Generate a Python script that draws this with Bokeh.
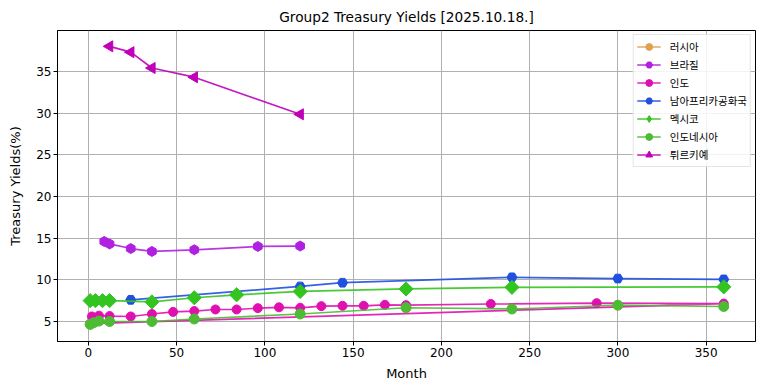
import math
from bokeh.plotting import figure
from bokeh.models import ColumnDataSource, Range1d, FixedTicker, Legend
from bokeh.embed import file_html
from bokeh.resources import INLINE

# ---- data (months, yields %) ----
russia_m = [float("nan")]
russia_y = [float("nan")]
brazil_m = [9, 12, 24, 36, 60, 96, 120]
brazil_y = [14.6, 14.3, 13.75, 13.4, 13.6, 14.0, 14.05]
india_m = [2, 6, 12, 24, 36, 48, 60, 72, 84, 96, 108, 120, 132, 144, 156, 168, 180, 228, 288, 360, 1]
india_y = [5.6, 5.7, 5.65, 5.6, 5.9, 6.15, 6.25, 6.44, 6.44, 6.6, 6.7, 6.64, 6.84, 6.88, 6.88, 7.0, 6.96, 7.1, 7.2, 7.15, 4.75]
safrica_m = [24, 120, 144, 240, 300, 360]
safrica_y = [7.6, 9.2, 9.65, 10.3, 10.15, 10.05]
mexico_m = [1, 4, 8, 12, 36, 60, 84, 120, 180, 240, 360]
mexico_y = [7.5, 7.5, 7.5, 7.5, 7.35, 7.85, 8.2, 8.6, 8.9, 9.1, 9.15]
indonesia_m = [1, 3, 6, 12, 36, 60, 120, 180, 240, 300, 360]
indonesia_y = [4.65, 4.85, 5.05, 5.0, 5.0, 5.3, 5.9, 6.65, 6.5, 6.95, 6.8]
turkey_m = [12, 24, 36, 60, 120]
turkey_y = [38.0, 37.3, 35.4, 34.3, 29.85]

x_ticks = [0, 50, 100, 150, 200, 250, 300, 350]
y_ticks = [5, 10, 15, 20, 25, 30, 35]

# name, months, yields, colour, plot marker, size, angle, legend marker, legend size
series = [
    ("러시아", russia_m, russia_y, "#e0a050", "circle", 9, 0, "circle", 9),
    ("브라질", brazil_m, brazil_y, "#b020e0", "hex", 10, math.pi / 2, "hex", 10),
    ("인도", india_m, india_y, "#e010b0", "circle", 9, 0, "circle", 9),
    ("남아프리카공화국", safrica_m, safrica_y, "#2050e0", "hex", 10, 0, "hex", 10),
    ("멕시코", mexico_m, mexico_y, "#33c41f", "square", 10, math.pi / 4, "diamond", 15),
    ("인도네시아", indonesia_m, indonesia_y, "#4dbb33", "circle", 10, 0, "circle", 10),
    ("튀르키예", turkey_m, turkey_y, "#c000b8", "triangle", 11, math.pi / 2, "triangle", 10),
]

FONT = "DejaVu Sans"

p = figure(width=760, height=385, output_backend="svg", toolbar_location=None,
           x_range=Range1d(-17.5, 378), y_range=Range1d(2.6, 39.9),
           min_border_left=57, min_border_right=5, min_border_top=30, min_border_bottom=44,
           title="Group2 Treasury Yields [2025.10.18.]")

p.title.text_font = FONT
p.title.text_font_size = "13.7px"
p.title.text_font_style = "normal"
p.title.text_color = "black"
p.title.align = "center"
p.title.offset = 0
p.title.standoff = 12

p.outline_line_color = "black"
p.outline_line_width = 1
p.outline_line_alpha = 1

for ax in (p.xaxis[0], p.yaxis[0]):
    ax.major_label_text_font = FONT
    ax.major_label_text_font_size = "12px"
    ax.major_label_text_color = "black"
    ax.axis_label_text_font = FONT
    ax.axis_label_text_font_size = "13px"
    ax.axis_label_text_font_style = "normal"
    ax.axis_label_text_color = "black"
    ax.minor_tick_line_color = None
    ax.major_tick_out = 4
    ax.major_tick_in = 0
    ax.axis_line_color = "black"
    ax.major_tick_line_color = "black"

p.xaxis[0].ticker = FixedTicker(ticks=x_ticks)
p.yaxis[0].ticker = FixedTicker(ticks=y_ticks)
p.xaxis[0].axis_label = "Month"
p.yaxis[0].axis_label = "Treasury Yields(%)"
p.xaxis[0].major_label_standoff = 2
p.yaxis[0].major_label_standoff = 2
p.xaxis[0].axis_label_standoff = 6
p.yaxis[0].axis_label_standoff = 10

p.grid.grid_line_color = "#b0b0b0"
p.grid.grid_line_width = 1

legend_items = []
nan = float("nan")
for name, m, y, color, marker, size, ang, lmarker, lsize in series:
    src = ColumnDataSource(dict(x=m, y=y))
    r1 = p.line("x", "y", source=src, line_color=color, line_width=1.7, line_alpha=0.9)
    p.scatter("x", "y", source=src, marker=marker, size=size, angle=ang,
              fill_color=color, line_color=color, line_width=1)
    # legend-only marker (no visible points)
    key = ColumnDataSource(dict(x=[nan], y=[nan]))
    r3 = p.scatter("x", "y", source=key, marker=lmarker, size=lsize,
                   fill_color=color, line_color=color, line_width=1)
    legend_items.append((name, [r1, r3]))

legend = Legend(items=legend_items, location="top_right")
legend.label_text_font = "Noto Sans CJK KR"
legend.label_text_font_size = "10.5px"
legend.label_text_color = "black"
legend.glyph_width = 24
legend.glyph_height = 17
legend.label_height = 17
legend.spacing = 1
legend.padding = 3
legend.margin = 4
legend.label_standoff = 9
legend.border_line_color = "#cccccc"
legend.border_line_width = 1
legend.background_fill_alpha = 0.85
p.add_layout(legend)

open("out.html", "w").write(file_html(p, INLINE))
